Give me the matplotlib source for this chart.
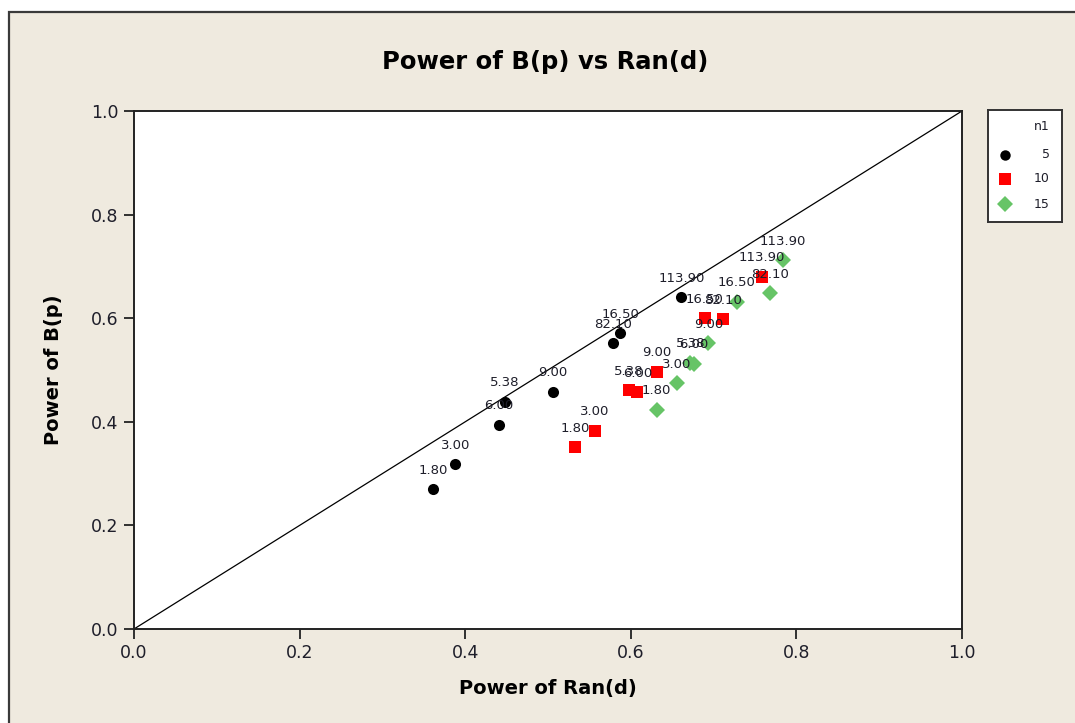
import matplotlib
matplotlib.use("Agg")
import matplotlib.pyplot as plt
from matplotlib.patches import Rectangle

# Label variable shown beside each point
d_values = [1.80, 3.00, 5.38, 6.00, 9.00, 16.50, 82.10, 113.90]

# Power of Ran(d) (x) and Power of B(p) (y) for each n1 group
ran_n5 = [0.3615, 0.388, 0.448, 0.441, 0.5056, 0.587, 0.579, 0.661]
bp_n5 = [0.270, 0.318, 0.439, 0.394, 0.458, 0.571, 0.552, 0.640]

ran_n10 = [0.5326, 0.5568, 0.5978, 0.6078, 0.6312, 0.6896, 0.7117, 0.758]
bp_n10 = [0.351, 0.383, 0.461, 0.457, 0.497, 0.600, 0.598, 0.680]

ran_n15 = [0.6312, 0.6554, 0.672, 0.676, 0.6936, 0.728, 0.768, 0.784]
bp_n15 = [0.423, 0.474, 0.514, 0.512, 0.5515, 0.632, 0.648, 0.712]

group_names = ["5", "10", "15"]
tick_values = [0.0, 0.2, 0.4, 0.6, 0.8, 1.0]

W, H = 1075, 723
fig = plt.figure(figsize=(W / 100, H / 100), dpi=100, facecolor="white")

# beige panel with a dark frame, kept behind the axes
panel = Rectangle((9 / W, -0.1), 1.2, (H - 12) / H + 0.1, transform=fig.transFigure,
                  facecolor="#efeadf", edgecolor="#3a3a3a", linewidth=1.6, zorder=-10)
fig.patches.append(panel)

ax = fig.add_axes([134 / W, 1 - 629 / H, 828 / W, 518 / H])
ax.set_facecolor("white")
ax.set_xlim(0, 1)
ax.set_ylim(0, 1)

txt_color = "#1e1e2a"

# reference line y = x
ax.plot([0, 1], [0, 1], transform=ax.transAxes, color="black", lw=0.9, zorder=1)

styles = [
    (ran_n5, bp_n5, "o", "black", 8),
    (ran_n10, bp_n10, "s", "#ff0000", 8.5),
    (ran_n15, bp_n15, "D", "#66c466", 8.2),
]
for xs, ys, mk, col, ms in styles:
    ax.plot(xs, ys, linestyle="none", marker=mk, color=col, markersize=ms,
            markeredgewidth=0, zorder=3)

for xs, ys, mk, col, ms in styles:
    for x, y, d in zip(xs, ys, d_values):
        ax.annotate(f"{d:.2f}", (x, y), xytext=(0, 19), textcoords="offset pixels",
                    ha="center", va="center", fontsize=9.5, color=txt_color, zorder=4)

ax.set_xticks(tick_values)
ax.set_yticks(tick_values)
ax.set_xticklabels([f"{v:.1f}" for v in tick_values])
ax.set_yticklabels([f"{v:.1f}" for v in tick_values])
ax.tick_params(direction="out", length=7, width=1.3, labelsize=12.5,
               colors="#222222", labelcolor=txt_color, pad=4)
for s in ax.spines.values():
    s.set_linewidth(1.4)
    s.set_color("#222222")

ax.set_xlabel("Power of Ran(d)", fontsize=14, fontweight="bold", color="black", labelpad=12)
ax.set_ylabel("Power of B(p)", fontsize=14, fontweight="bold", color="black", labelpad=20)
fig.text(545 / W, 1 - 62 / H, "Power of B(p) vs Ran(d)", ha="center", va="center",
         fontsize=17.5, fontweight="bold", color="black")

# legend box for n1
lax = fig.add_axes([988 / W, 1 - 222 / H, 74 / W, 112 / H])
lax.set_xlim(0, 74)
lax.set_ylim(112, 0)
lax.set_xticks([])
lax.set_yticks([])
lax.set_facecolor("white")
for s in lax.spines.values():
    s.set_linewidth(1.4)
    s.set_color("#333333")
lax.text(62, 17, "n1", ha="right", va="center", fontsize=9, color=txt_color)
row_y = [45, 69, 94]
for (xs, ys, mk, col, ms), name, ry in zip(styles, group_names, row_y):
    lax.plot([17], [ry], linestyle="none", marker=mk, color=col, markersize=ms - 0.5,
             markeredgewidth=0)
    lax.text(62, ry, name, ha="right", va="center", fontsize=9, color=txt_color)

fig.savefig("out.png", dpi=100, facecolor="white")
